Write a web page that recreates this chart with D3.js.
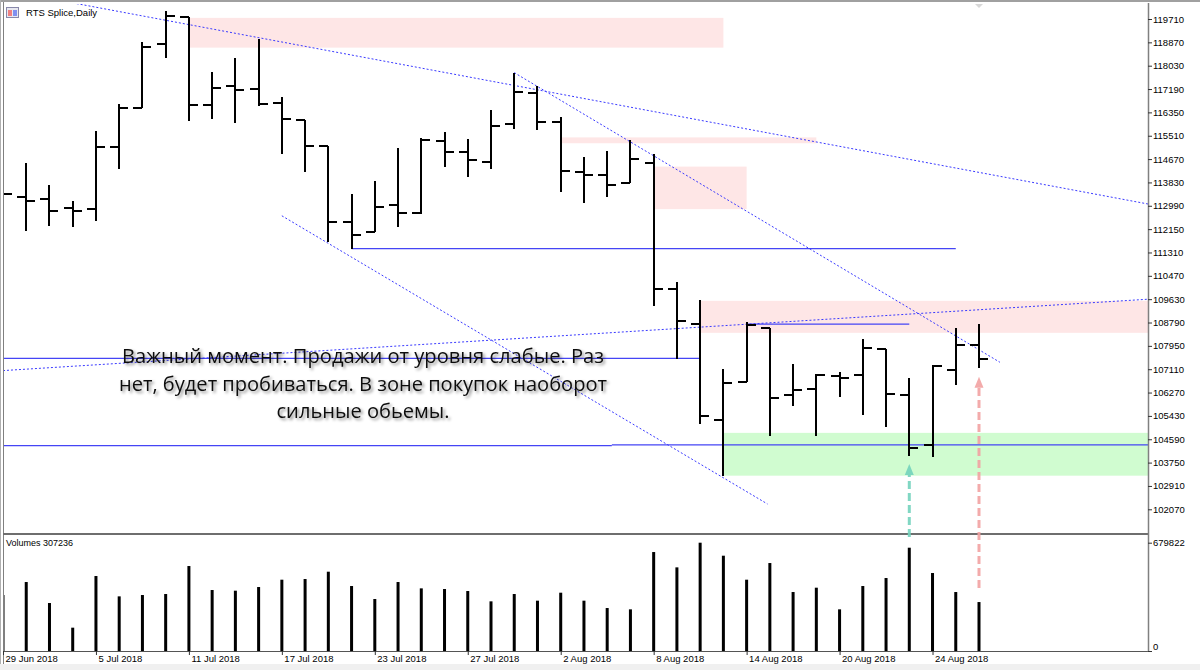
<!DOCTYPE html>
<html>
<head>
<meta charset="utf-8">
<title>RTS Splice,Daily</title>
<script src="https://cdnjs.cloudflare.com/ajax/libs/d3/7.8.5/d3.min.js"></script>
<style>
  body { margin: 0; background: #fff; }
  svg { display: block; font-family: "Liberation Sans", Arial, sans-serif; }
  .axis text { font-size: 9.5px; fill: #000; }
  .axis path { display: none; }
  .axis line { stroke: #333; }
</style>
</head>
<body>
<svg id="chart" width="1200" height="670"></svg>
<script>
// trading days shown on the chart
const dates = ["29 Jun 2018","2 Jul 2018","3 Jul 2018","4 Jul 2018","5 Jul 2018","6 Jul 2018","9 Jul 2018",
  "10 Jul 2018","11 Jul 2018","12 Jul 2018","13 Jul 2018","16 Jul 2018","17 Jul 2018","18 Jul 2018",
  "19 Jul 2018","20 Jul 2018","23 Jul 2018","24 Jul 2018","25 Jul 2018","26 Jul 2018","27 Jul 2018",
  "30 Jul 2018","31 Jul 2018","1 Aug 2018","2 Aug 2018","3 Aug 2018","6 Aug 2018","7 Aug 2018",
  "8 Aug 2018","9 Aug 2018","10 Aug 2018","13 Aug 2018","14 Aug 2018","15 Aug 2018","16 Aug 2018",
  "17 Aug 2018","20 Aug 2018","21 Aug 2018","22 Aug 2018","23 Aug 2018","24 Aug 2018","27 Aug 2018","28 Aug 2018"];

const open  = [113560,113310,113250,112900,112870,115110,116520,118820,119770,116620,117290,117190,116680,116080,
  115140,112400,112050,113010,112720,115330,114910,114550,115930,117040,116020,114220,114090,113820,114540,
  110010,108730,105270,106640,108590,106180,106390,106870,106890,107830,106190,104370,107080,107990];
const high  = [114100,114530,113740,113170,115680,116640,118890,120000,119790,117810,118310,119000,116890,116080,
  115140,113430,113880,115070,115420,115660,115380,116430,117780,117310,116200,114760,114960,115360,114850,
  110230,109610,107110,108820,108590,107310,106950,107010,108200,107850,106780,107260,108580,108740];
const low   = [112660,112090,112260,112240,112450,114300,116520,118320,116040,116120,115980,116580,114860,114210,
  111680,111450,112050,112230,112700,114380,114020,114300,115740,115720,113500,113080,113320,113800,109390,
  107480,105130,103270,106640,104710,105800,104710,106100,105450,105040,103970,103940,106540,107140];
const close = [113400,113160,112810,112790,115110,116520,118700,119820,116620,117240,117160,116650,116120,115150,
  112400,111930,112950,112720,115360,114910,114650,115860,117080,116020,114250,114090,113730,114670,110010,
  108860,105440,106610,108690,106090,106360,106890,106780,107870,106210,104270,107210,107980,107480];
const volume = [351400,433000,301200,146400,470700,343000,351400,357700,533400,382800,378600,401600,447600,451800,
  497800,407900,326300,433000,393200,389000,376500,311700,357700,315900,366000,315900,269800,261500,621200,
  525000,679822,598200,447600,552200,370200,397400,261500,407900,458100,648400,489500,370200,307236];

const priceTicks = [119710,118870,118030,117190,116350,115510,114670,113830,112990,112150,111310,
  110470,109630,108790,107950,107110,106270,105430,104590,103750,102910,102070];
const volumeTicks = [0, 679822];
const dateTicks = [0,4,8,12,16,20,24,28,32,36,40];

// drawn objects: [barFrom, barTo, priceLow, priceHigh]
const supplyZones = [[8,31,118680,119750],[24,35,115240,115450],[28,32,112870,114400],[30,50,108420,109570]];
const demandZones = [[31,50,103280,104820]];
// horizontal levels: [barFrom, barTo, price]
const levels = [[15,41,111450],[-1,30,107500],[-1,26.2,104360],[26.2,50,104390],[32,39,108730]];
// trend lines: [bar1, price1, bar2, price2]
const trends = [[3,120290,49.3,113050],[22,117780,42.9,107360],[12,112630,32.9,102260],[0,107060,49.3,109630]];
// signal arrows: bar, volume at tail, price at tip
const arrowBars = [39, 42];
const arrowTailVol = [715000, 395500];
const arrowTipPrice = [103700, 106840];
const arrowColors = ["#74d3bd", "#f2a2a2"];

const noteLines = ["Важный момент. Продажи от уровня слабые. Раз",
  "нет, будет пробиваться. В зоне покупок наоборот",
  "сильные обьемы."];
const noteWidths = [482, 488, 173];

const LEFT = 3, RIGHT = 1148, TOP = 3, SEP = 534, BOTTOM = 651;

const svg = d3.select("#chart");
const x = d3.scaleLinear().domain([0, 42]).range([3, 979]);
const yP = d3.scaleLinear().domain([102070, 119710]).range([509.3, 19]);
const yV = d3.scaleLinear().domain([0, 679822]).range([BOTTOM, 542.7]);

const defs = svg.append("defs");
defs.append("clipPath").attr("id", "clipPrice").append("rect")
  .attr("x", LEFT + 1).attr("y", TOP + 1).attr("width", RIGHT - LEFT - 1).attr("height", SEP - TOP - 2);
defs.append("clipPath").attr("id", "clipVol").append("rect")
  .attr("x", LEFT + 1).attr("y", SEP + 1).attr("width", RIGHT - LEFT - 1).attr("height", BOTTOM - SEP - 1);
defs.append("filter").attr("id", "shadow").attr("x", "-5%").attr("y", "-30%").attr("width", "110%").attr("height", "160%")
  .append("feDropShadow").attr("dx", 2).attr("dy", 2).attr("stdDeviation", 1.6)
  .attr("flood-color", "#000").attr("flood-opacity", 0.45);

// frame
svg.append("rect").attr("width", 1200).attr("height", 670).attr("fill", "#fff");
svg.append("rect").attr("x", 0).attr("y", 0).attr("width", 1200).attr("height", 2).attr("fill", "#a0a0a0");
svg.append("rect").attr("x", 0).attr("y", 664).attr("width", 1200).attr("height", 6).attr("fill", "#f0f0f0");
svg.append("line").attr("x1", 0.5).attr("x2", 0.5).attr("y1", 0).attr("y2", 664).attr("stroke", "#b0b0b0");
svg.append("line").attr("x1", 3.5).attr("x2", 3.5).attr("y1", 2).attr("y2", 664).attr("stroke", "#808080");

// ---------- price pane ----------
const gP = svg.append("g").attr("clip-path", "url(#clipPrice)");

gP.selectAll("rect.supply").data(supplyZones).join("rect")
  .attr("x", d => x(d[0])).attr("width", d => x(d[1]) - x(d[0]))
  .attr("y", d => yP(d[3])).attr("height", d => yP(d[2]) - yP(d[3]))
  .attr("fill", "#fee6e6");
gP.selectAll("rect.demand").data(demandZones).join("rect")
  .attr("x", d => x(d[0])).attr("width", d => x(d[1]) - x(d[0]))
  .attr("y", d => yP(d[3])).attr("height", d => yP(d[2]) - yP(d[3]))
  .attr("fill", "#d0fcd0");

gP.selectAll("line.level").data(levels).join("line")
  .attr("x1", d => x(d[0])).attr("x2", d => x(d[1]))
  .attr("y1", d => yP(d[2])).attr("y2", d => yP(d[2]))
  .attr("stroke", "#4545f5").attr("stroke-width", 1.2);

gP.selectAll("line.trend").data(trends).join("line")
  .attr("x1", d => x(d[0])).attr("y1", d => yP(d[1]))
  .attr("x2", d => x(d[2])).attr("y2", d => yP(d[3]))
  .attr("stroke", "#3a3aff").attr("stroke-width", 1).attr("stroke-dasharray", "2,2");

const bars = dates.map((d, i) => ({ i: i, o: open[i], h: high[i], l: low[i], c: close[i] }));
const gB = gP.append("g").attr("stroke", "#000").attr("stroke-width", 2).attr("shape-rendering", "crispEdges");
gB.selectAll("line.hl").data(bars).join("line")
  .attr("x1", d => x(d.i)).attr("x2", d => x(d.i))
  .attr("y1", d => yP(d.h)).attr("y2", d => yP(d.l));
gB.selectAll("line.o").data(bars).join("line")
  .attr("x1", d => x(d.i) - 9).attr("x2", d => x(d.i))
  .attr("y1", d => yP(d.o)).attr("y2", d => yP(d.o));
gB.selectAll("line.c").data(bars).join("line")
  .attr("x1", d => x(d.i)).attr("x2", d => x(d.i) + 9)
  .attr("y1", d => yP(d.c)).attr("y2", d => yP(d.c));

// note text
const note = svg.append("g").attr("filter", "url(#shadow)");
note.selectAll("text").data(noteLines).join("text")
  .attr("x", 363).attr("y", (d, i) => 363 + i * 27.5)
  .attr("text-anchor", "middle")
  .attr("font-family", "'Open Sans', 'Noto Sans', sans-serif")
  .attr("font-size", 20).attr("fill", "#111")
  .attr("textLength", (d, i) => noteWidths[i]).attr("lengthAdjust", "spacingAndGlyphs")
  .text(d => d);

// header
const icon = svg.append("g");
icon.append("rect").attr("x", 6.5).attr("y", 7.5).attr("width", 12).attr("height", 10)
  .attr("fill", "#e8e8f0").attr("stroke", "#8888aa");
icon.append("rect").attr("x", 8).attr("y", 10).attr("width", 4).attr("height", 6).attr("fill", "#f08080");
icon.append("rect").attr("x", 13).attr("y", 10).attr("width", 4).attr("height", 6).attr("fill", "#8090f0");
svg.append("text").attr("x", 26).attr("y", 16).attr("font-size", 9.5).attr("fill", "#000")
  .text("RTS Splice,Daily");

// shift marker
svg.append("path").attr("d", `M${x(42) - 4},4 L${x(42) + 4},4 L${x(42)},8 Z`).attr("fill", "#d8d8d8");

// ---------- volume pane ----------
const gV = svg.append("g").attr("clip-path", "url(#clipVol)");
gV.selectAll("rect.vol").data(volume).join("rect")
  .attr("x", (d, i) => x(i) - 1.5).attr("width", 3)
  .attr("y", d => yV(d)).attr("height", d => yV(0) - yV(d))
  .attr("fill", "#000");
svg.append("text").attr("x", 6).attr("y", 546).attr("font-size", 9).attr("fill", "#000")
  .text("Volumes " + volume[volume.length - 1]);

// separators and axes lines
svg.append("line").attr("x1", LEFT).attr("x2", RIGHT).attr("y1", SEP).attr("y2", SEP)
  .attr("stroke", "#6e6e6e").attr("stroke-width", 2);
svg.append("line").attr("x1", LEFT).attr("x2", RIGHT).attr("y1", BOTTOM + 0.5).attr("y2", BOTTOM + 0.5)
  .attr("stroke", "#555").attr("stroke-width", 1.2);
svg.append("line").attr("x1", RIGHT + 0.5).attr("x2", RIGHT + 0.5).attr("y1", TOP).attr("y2", BOTTOM + 1)
  .attr("stroke", "#808080").attr("stroke-width", 1.5);

// signal arrows
const gA = svg.append("g").attr("opacity", 0.9);
arrowBars.forEach((b, k) => {
  const ax = x(b), tip = yP(arrowTipPrice[k]), tail = yV(arrowTailVol[k]);
  gA.append("line").attr("x1", ax).attr("x2", ax).attr("y1", tail).attr("y2", tip + 9)
    .attr("stroke", arrowColors[k]).attr("stroke-width", 3).attr("stroke-dasharray", "8,4");
  gA.append("path").attr("d", `M${ax},${tip} L${ax - 4.5},${tip + 11} L${ax + 4.5},${tip + 11} Z`)
    .attr("fill", arrowColors[k]);
});

// price axis
svg.append("g").attr("class", "axis").attr("transform", `translate(${RIGHT},0)`)
  .call(d3.axisRight(yP).tickValues(priceTicks).tickSize(4).tickPadding(1).tickFormat(d3.format("d")));

// volume axis
const va = svg.append("g").attr("class", "axis").attr("transform", `translate(${RIGHT},0)`)
  .call(d3.axisRight(yV).tickValues(volumeTicks).tickSize(4).tickPadding(1).tickFormat(d3.format("d")));
va.selectAll("text").filter(d => d === 0).attr("dy", "-0.15em");

// date axis
const da = svg.append("g").attr("class", "axis").attr("transform", `translate(0,${BOTTOM})`)
  .call(d3.axisBottom(x).tickValues(dateTicks).tickSize(4).tickPadding(1).tickFormat(i => dates[i]));
da.selectAll("text").attr("text-anchor", "start").attr("x", 2).attr("y", 4).attr("dy", "0.78em");
</script>
</body>
</html>
